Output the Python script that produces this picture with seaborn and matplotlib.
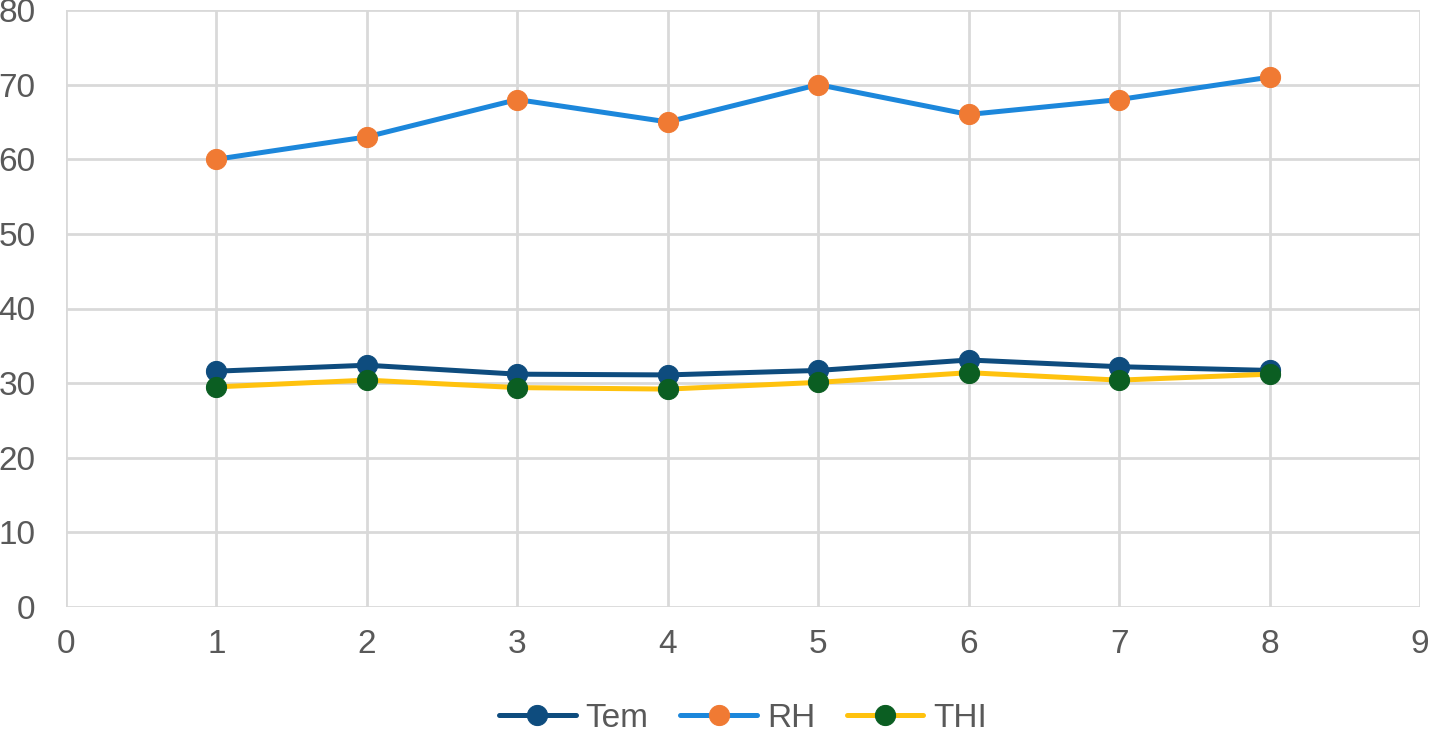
import pandas as pd
import seaborn as sns
import matplotlib.pyplot as plt

days = [1, 2, 3, 4, 5, 6, 7, 8]
tem = [31.6, 32.4, 31.2, 31.1, 31.7, 33.1, 32.2, 31.7]
rh = [60, 63, 68, 65, 70, 66, 68, 71]
thi = [29.5, 30.4, 29.4, 29.2, 30.1, 31.4, 30.4, 31.2]

df = pd.DataFrame({'day': days, 'Tem': tem, 'RH': rh, 'THI': thi})

sns.set_style('white')
plt.rcParams['font.family'] = ['Liberation Sans', 'DejaVu Sans']

fig = plt.figure(figsize=(14.29, 7.33), dpi=100)
ax = fig.add_axes([66 / 1429, 1 - 607 / 733, (1420 - 66) / 1429, (607 - 10) / 733])

# (series, line colour, marker colour)
styles = [('Tem', '#0E4C7E', '#0E4C7E'),
          ('RH', '#1C87DB', '#F07A33'),
          ('THI', '#FFC20E', '#0B5E22')]
for name, lc, mc in styles:
    sns.lineplot(data=df, x='day', y=name, ax=ax, color=lc, linewidth=3.6,
                 marker='o', markersize=14.5, markerfacecolor=mc,
                 markeredgecolor=mc, label=name)

ax.set_xlim(0, 9)
ax.set_ylim(0, 80)
ax.set_xticks(range(0, 10))
ax.set_yticks(range(0, 81, 10))
ax.set_xlabel('')
ax.set_ylabel('')
ax.grid(True, color='#D9D9D9', linewidth=2)
ax.set_axisbelow(True)
for s in ax.spines.values():
    s.set_visible(False)
ax.tick_params(axis='both', length=0, labelsize=24, labelcolor='#595959')
ax.tick_params(axis='y', pad=22)
ax.tick_params(axis='x', pad=16)

ax.get_legend().remove()
h, l = ax.get_legend_handles_labels()
fig.legend(h, l, loc='center', bbox_to_anchor=(0.52, 0.02), ncol=3,
           frameon=False, fontsize=24, handlelength=2.3, handletextpad=0.3,
           columnspacing=0.95, labelcolor='#595959')

fig.savefig('out.png', dpi=100)
